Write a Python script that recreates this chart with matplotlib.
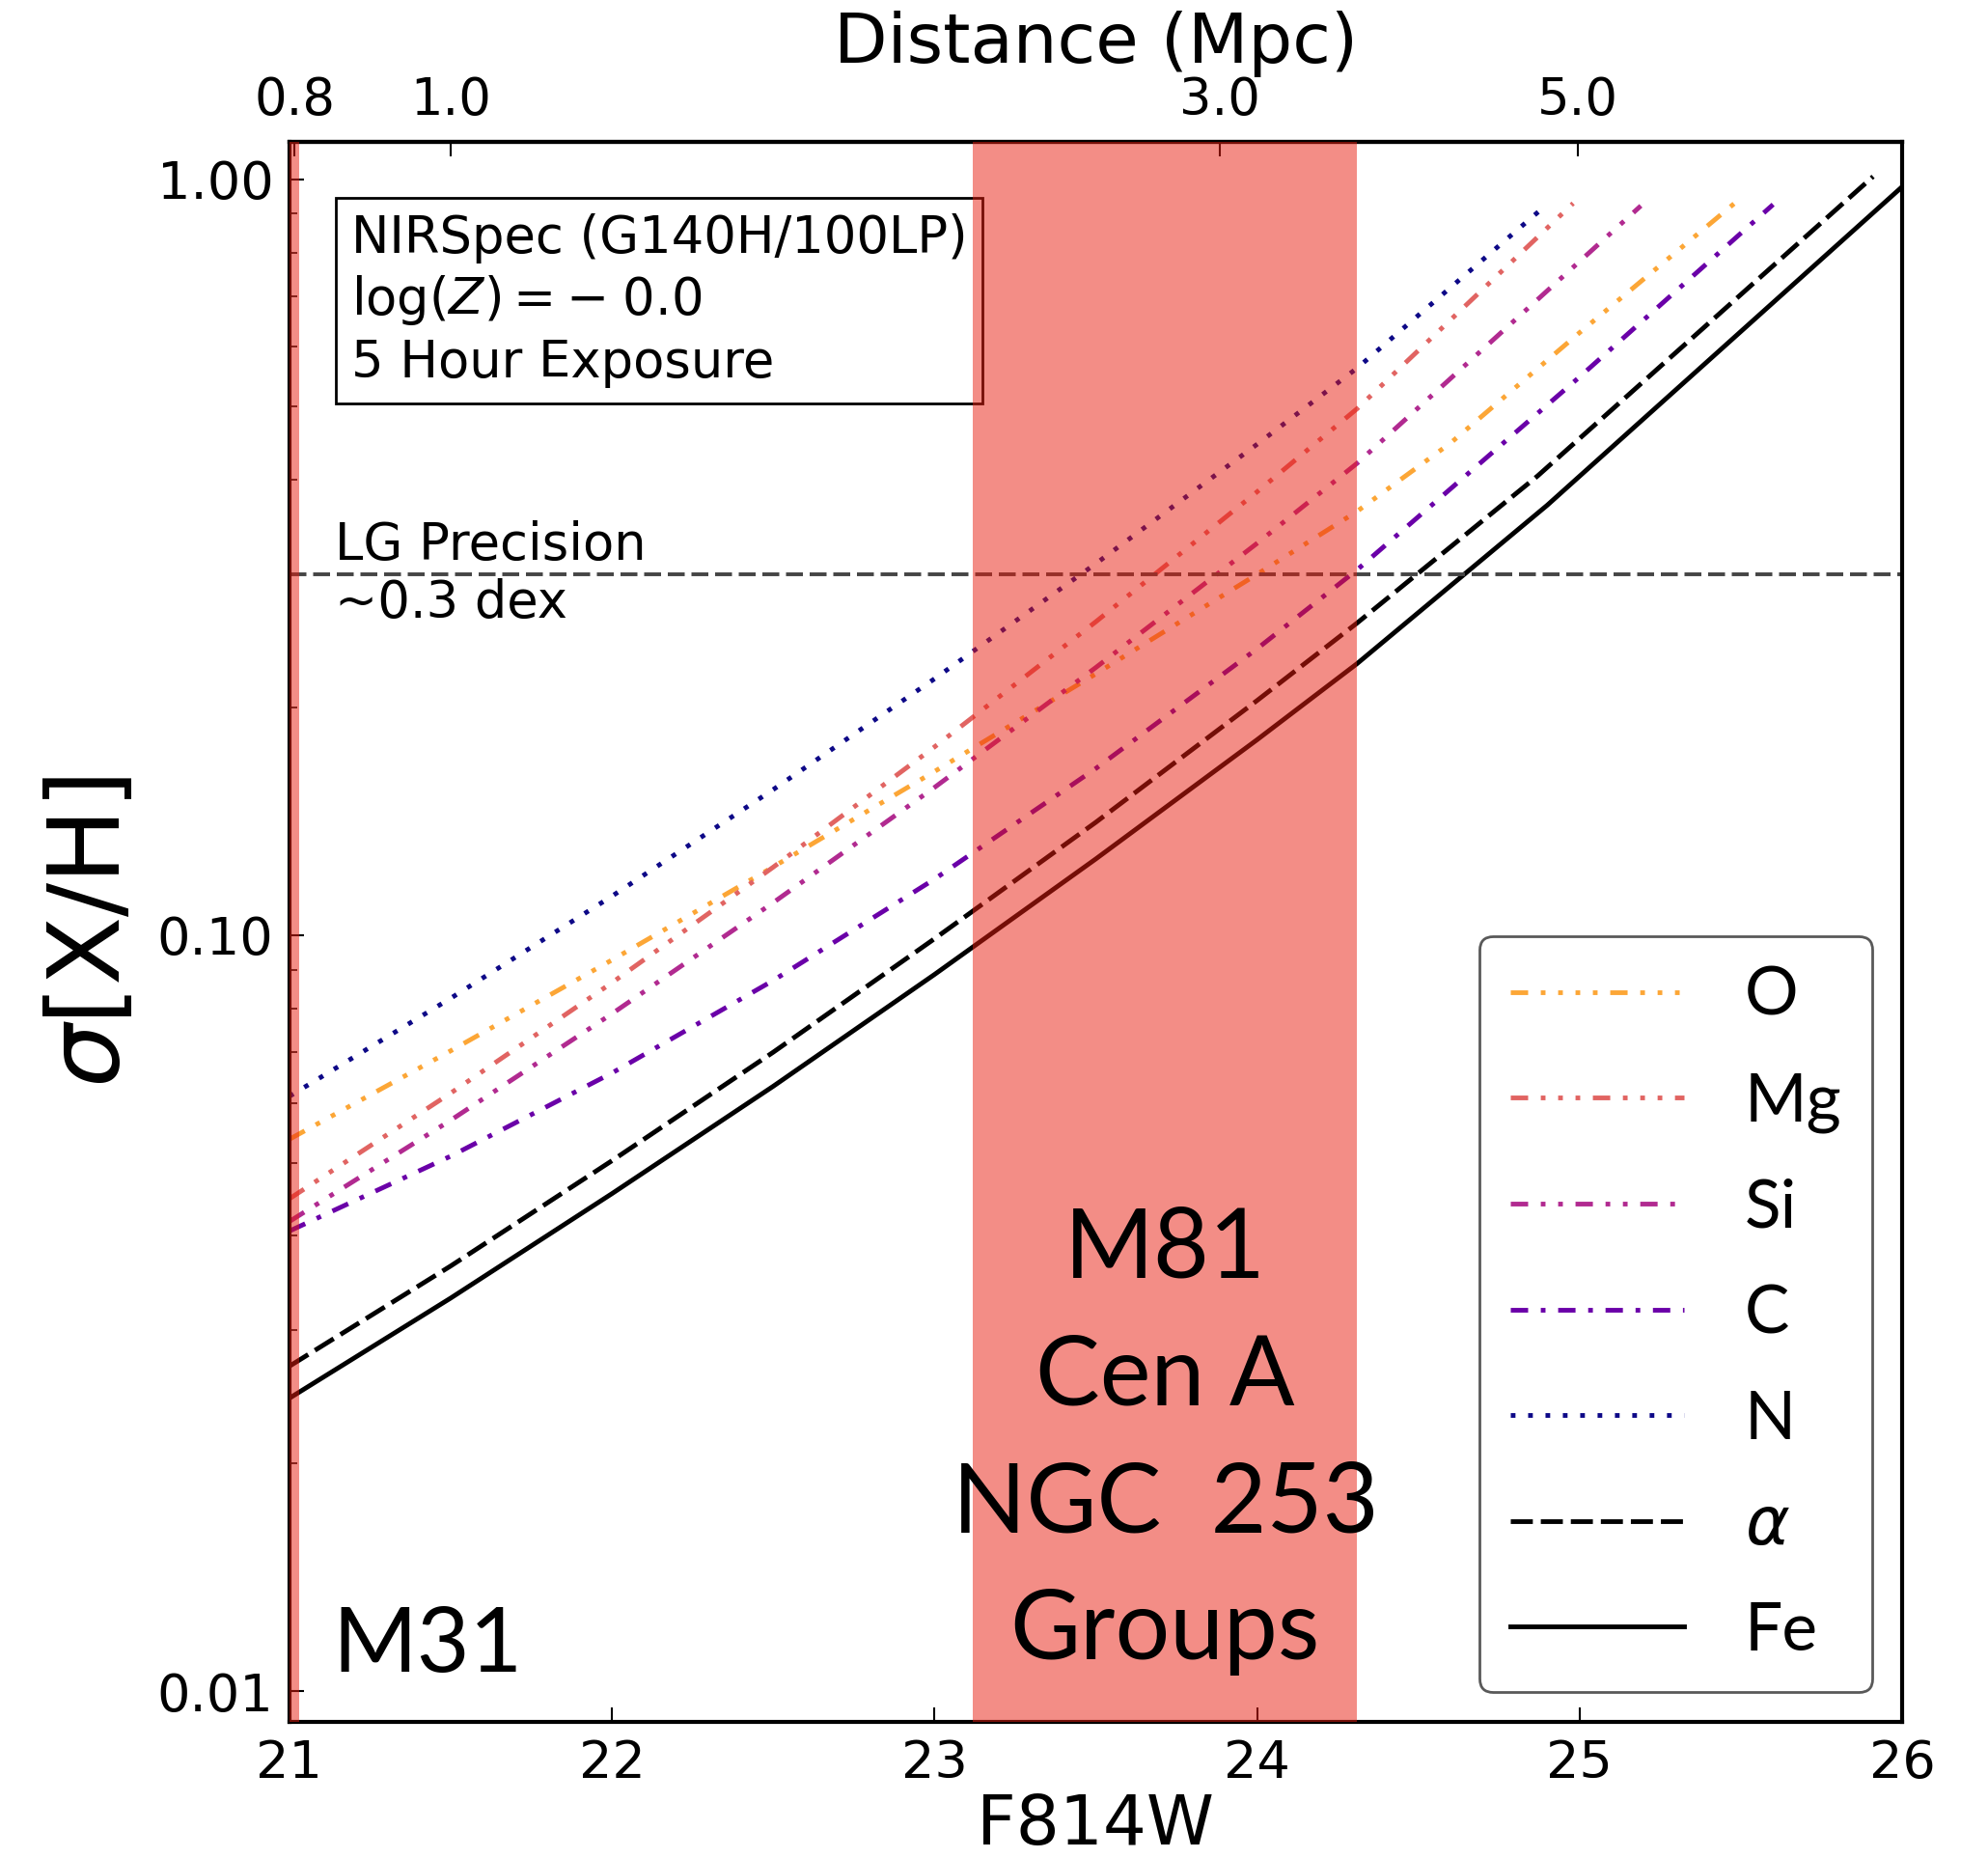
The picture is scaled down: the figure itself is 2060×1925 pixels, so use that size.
import numpy as np
import matplotlib
matplotlib.use('Agg')
import matplotlib.pyplot as plt
from matplotlib.ticker import FormatStrFormatter, FixedLocator

# F814W magnitude grid and sigma[X/H] per element
mag_N = [21.0, 21.5, 22.0, 22.5, 23.0, 23.5, 24.0, 24.31, 24.88]
sig_N = [0.0612, 0.0825, 0.1126, 0.1558, 0.2183, 0.310, 0.4459, 0.5623, 0.9114]

mag_O = [21.0, 21.5, 22.0, 22.5, 23.0, 23.5, 24.0, 24.31, 24.6, 25.0, 25.49]
sig_O = [0.0537, 0.0703, 0.0927, 0.1231, 0.1646, 0.2216, 0.3001, 0.3635, 0.4477, 0.6266, 0.9365]

mag_Mg = [21.0, 21.5, 22.0, 22.5, 23.0, 23.5, 24.0, 24.31, 24.98]
sig_Mg = [0.0448, 0.0618, 0.0865, 0.1230, 0.1774, 0.2597, 0.3858, 0.4969, 0.929]

mag_Si = [21.0, 21.5, 22.0, 22.5, 23.0, 23.5, 24.0, 24.31, 25.19]
sig_Si = [0.0418, 0.0569, 0.0787, 0.1104, 0.1568, 0.2259, 0.3298, 0.4208, 0.922]

mag_C = [21.0, 21.5, 22.0, 22.5, 23.0, 23.5, 24.0, 24.31, 25.0, 25.6]
sig_C = [0.0406, 0.0510, 0.0657, 0.0871, 0.1186, 0.1661, 0.2392, 0.3042, 0.5475, 0.9256]

mag_alpha = [21.0, 21.5, 22.0, 22.5, 23.0, 23.5, 24.0, 24.31, 24.87, 25.91]
sig_alpha = [0.0269, 0.0365, 0.0503, 0.0700, 0.0989, 0.141, 0.2043, 0.2587, 0.405, 1.008]

mag_Fe = [21.0, 21.5, 22.0, 22.5, 23.0, 23.5, 24.0, 24.31, 24.9, 26.0]
sig_Fe = [0.0244, 0.0331, 0.0455, 0.0631, 0.0887, 0.1261, 0.1813, 0.2286, 0.3705, 0.977]

lg_precision = 0.3
abs_mag = -3.5          # F814W absolute mag used for the distance axis
m31_band = (20.9, 21.03)
group_band = (23.12, 24.31)
dist_ticks = [0.8, 1.0, 3.0, 5.0]

def mag2dist(m):
    return 10 ** ((np.asarray(m) - abs_mag - 25.0) / 5.0)

def dist2mag(d):
    d = np.clip(np.asarray(d, dtype=float), 1e-6, None)
    return abs_mag + 25.0 + 5.0 * np.log10(d)

fig = plt.figure(figsize=(20.6, 19.25), dpi=100)
ax = fig.add_axes([0.1456, 0.0732, 0.8112, 0.8504])

lw = 3.5
dsh, dot, gap = 3.7, 1.0, 2.7
lines = [
    (mag_O, sig_O, '#fca636', (0, (dsh, gap) + (dot, gap) * 4), 'O'),
    (mag_Mg, sig_Mg, '#e16462', (0, (dsh, gap) + (dot, gap) * 3), 'Mg'),
    (mag_Si, sig_Si, '#b12a90', (0, (dsh, gap) + (dot, gap) * 2), 'Si'),
    (mag_C, sig_C, '#6a00a8', (0, (dsh, gap, dot, gap)), 'C'),
    (mag_N, sig_N, '#0d0887', (0, (dot, gap)), 'N'),
    (mag_alpha, sig_alpha, 'black', (0, (4.7, 1.7)), r'$\alpha$'),
    (mag_Fe, sig_Fe, 'black', '-', 'Fe'),
]
for x, y, c, ls, lab in lines:
    ax.plot(x, y, color=c, linestyle=ls, lw=lw, label=lab, zorder=2)

ax.axhline(lg_precision, color='0.27', linestyle=(0, (4.5, 1.8)), lw=2.8, zorder=2)

ax.axvspan(*m31_band, color='#e91d0f', alpha=0.5, lw=0, zorder=4)
ax.axvspan(*group_band, color='#e91d0f', alpha=0.5, lw=0, zorder=4)

ax.set_yscale('log')
ax.set_xlim(21, 26)
ax.set_ylim(0.0091, 1.12)
ax.yaxis.set_major_formatter(FormatStrFormatter('%.2f'))
ax.xaxis.set_major_locator(FixedLocator([21, 22, 23, 24, 25, 26]))

ax.tick_params(which='major', direction='in', length=11, width=1.5, labelsize=39,
               pad=12, top=False, right=False)
ax.tick_params(which='minor', direction='in', length=6, width=1.2, top=False, right=False)
ax.tick_params(axis='x', which='minor', bottom=False)
for s in ['top', 'bottom', 'left', 'right']:
    ax.spines[s].set_linewidth(3)

ax.set_xlabel('F814W', fontsize=51, labelpad=3)
ax.set_ylabel(r'$\sigma$[X/H]', fontsize=75, labelpad=12)

sec = ax.secondary_xaxis('top', functions=(mag2dist, dist2mag))
sec.set_xticks(dist_ticks)
sec.xaxis.set_major_formatter(FormatStrFormatter('%.1f'))
sec.tick_params(direction='in', length=11, width=1.5, labelsize=38, pad=12)
sec.xaxis.set_minor_locator(FixedLocator([]))
sec.spines['top'].set_linewidth(3)
sec.set_xlabel('Distance (Mpc)', fontsize=52, labelpad=10)

ax.text(0.0383, 0.955, 'NIRSpec (G140H/100LP)\n$\\log(Z) = -\\;0.0$\n5 Hour Exposure',
        transform=ax.transAxes, fontsize=38, va='top', ha='left', linespacing=1.25,
        bbox=dict(boxstyle='square,pad=0.3', facecolor='white', edgecolor='black', lw=2),
        zorder=3)

ax.text(21.14, lg_precision, 'LG Precision\n~0.3 dex', fontsize=38, va='center',
        ha='left', linespacing=1.2, zorder=3)

ax.text(0.0263, 0.032, 'M31', transform=ax.transAxes, fontsize=68, family='Lato',
        ha='left', va='baseline', zorder=6)
ax.text(np.mean(group_band), 0.178, 'M81\nCen A\nNGC  253\nGroups',
        transform=ax.get_xaxis_transform(), fontsize=72, family='Lato',
        ha='center', va='center', linespacing=1.55, zorder=6)

leg = ax.legend(loc='lower right', prop={'family': ['Lato', 'DejaVu Sans'], 'size': 50},
                handlelength=2.6, handletextpad=0.9, labelspacing=0.67,
                borderpad=0.45, borderaxespad=0.45, fancybox=True, framealpha=1)
leg.get_frame().set_edgecolor('0.35')
leg.get_frame().set_linewidth(2)

fig.savefig('out.png', dpi=100)
